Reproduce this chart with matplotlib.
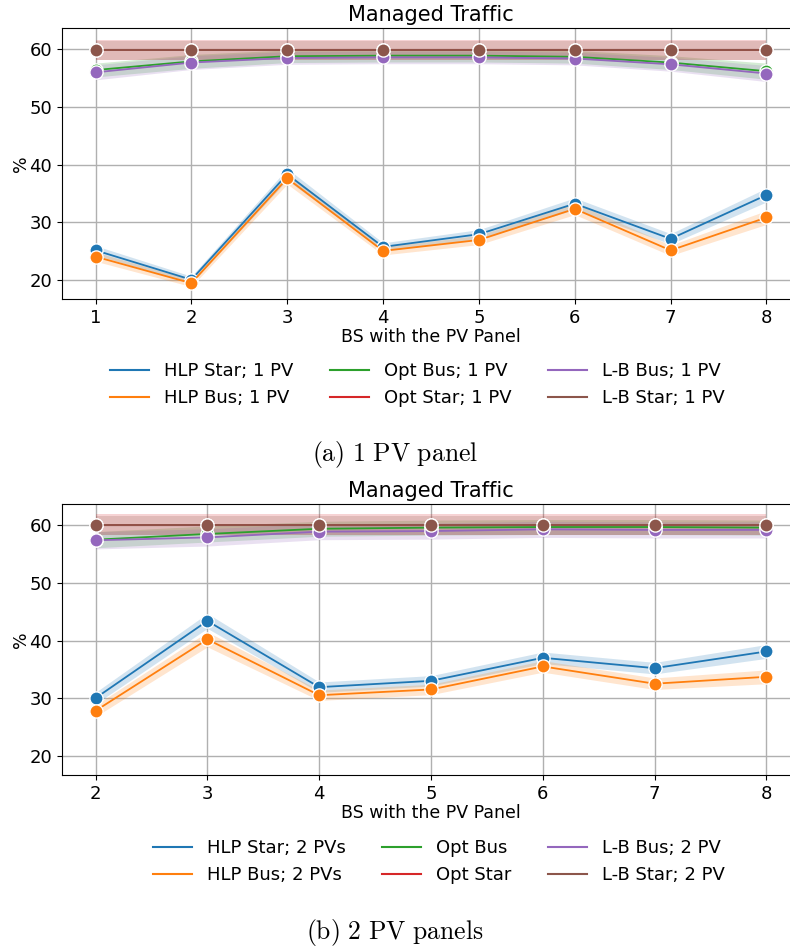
import matplotlib
matplotlib.use("Agg")
import matplotlib.pyplot as plt
from matplotlib.lines import Line2D
import numpy as np

plt.rcParams['mathtext.fontset'] = 'cm'

# ---- data: panel (a) 1 PV ----
x_a = [1, 2, 3, 4, 5, 6, 7, 8]
hlp_star_a = [25.1, 20.0, 38.3, 25.7, 27.9, 33.2, 27.1, 34.7]
hlp_bus_a = [24.0, 19.4, 37.6, 25.0, 26.9, 32.3, 25.1, 30.8]
opt_bus_a = [56.4, 57.9, 58.8, 58.9, 58.9, 58.7, 57.7, 56.2]
opt_star_a = [59.9, 59.9, 59.9, 59.9, 59.9, 59.9, 59.9, 59.9]
lb_bus_a = [56.0, 57.7, 58.5, 58.6, 58.6, 58.4, 57.4, 55.8]
lb_star_a = [59.8, 59.8, 59.8, 59.8, 59.8, 59.8, 59.8, 59.8]
ci_a = {
    'hlp_star': [0.8, 0.6, 1.0, 0.7, 0.8, 1.0, 0.9, 1.2],
    'hlp_bus': [0.8, 0.6, 1.0, 0.7, 0.8, 1.0, 0.9, 1.2],
    'opt_bus': [1.2, 1.2, 1.1, 1.1, 1.1, 1.1, 1.2, 1.4],
    'opt_star': [1.7, 1.7, 1.7, 1.7, 1.7, 1.7, 1.7, 1.7],
    'lb_bus': [1.3, 1.2, 1.1, 1.1, 1.1, 1.1, 1.2, 1.4],
    'lb_star': [1.6, 1.6, 1.6, 1.6, 1.6, 1.6, 1.6, 1.6],
}
labels_a = ["HLP Star; 1 PV", "HLP Bus; 1 PV", "Opt Bus; 1 PV",
            "Opt Star; 1 PV", "L-B Bus; 1 PV", "L-B Star; 1 PV"]

# ---- data: panel (b) 2 PVs ----
x_b = [2, 3, 4, 5, 6, 7, 8]
hlp_star_b = [30.0, 43.4, 31.9, 33.0, 37.0, 35.2, 38.1]
hlp_bus_b = [27.8, 40.2, 30.5, 31.5, 35.5, 32.5, 33.7]
opt_bus_b = [57.5, 58.5, 59.4, 59.6, 59.7, 59.7, 59.6]
opt_star_b = [60.1, 60.1, 60.1, 60.1, 60.1, 60.1, 60.1]
lb_bus_b = [57.4, 57.9, 58.9, 59.0, 59.3, 59.2, 59.2]
lb_star_b = [60.0, 60.0, 60.0, 60.0, 60.0, 60.0, 60.0]
ci_b = {
    'hlp_star': [1.0, 1.3, 0.9, 0.9, 1.0, 1.0, 1.2],
    'hlp_bus': [1.0, 1.3, 0.9, 0.9, 1.0, 1.0, 1.2],
    'opt_bus': [1.4, 1.4, 1.3, 1.3, 1.3, 1.3, 1.3],
    'opt_star': [1.8, 1.8, 1.8, 1.8, 1.8, 1.8, 1.8],
    'lb_bus': [1.5, 1.5, 1.4, 1.4, 1.4, 1.4, 1.4],
    'lb_star': [1.7, 1.7, 1.7, 1.7, 1.7, 1.7, 1.7],
}
labels_b = ["HLP Star; 2 PVs", "HLP Bus; 2 PVs", "Opt Bus",
            "Opt Star", "L-B Bus; 2 PV", "L-B Star; 2 PV"]

keys = ['hlp_star', 'hlp_bus', 'opt_bus', 'opt_star', 'lb_bus', 'lb_star']
colors = ['#1f77b4', '#ff7f0e', '#2ca02c', '#d62728', '#9467bd', '#8c564b']

fig = plt.figure(figsize=(7.9, 9.51), dpi=100)
W, H = 790, 951


def axes_px(left, right, top, bottom):
    return fig.add_axes([left / W, 1 - bottom / H, (right - left) / W, (bottom - top) / H])


def draw(ax, x, series, cis, labels, xlim, xticks):
    handles = []
    for k, y, lab, c in zip(keys, series, labels, colors):
        y = np.array(y)
        ci = np.array(cis[k])
        ax.fill_between(x, y - ci, y + ci, color=c, alpha=0.2, linewidth=0)
        h, = ax.plot(x, y, color=c, lw=1.3, marker='o', markersize=9.5,
                     markeredgecolor='white', markeredgewidth=1.0, label=lab)
        handles.append(h)
    ax.set_xlim(*xlim)
    ax.set_ylim(16.65, 63.7)
    ax.set_xticks(xticks)
    ax.set_yticks([20, 30, 40, 50, 60])
    ax.grid(True, color='#b0b0b0', lw=1.0)
    ax.set_axisbelow(True)
    ax.tick_params(labelsize=13)
    ax.set_title("Managed Traffic", fontsize=15, pad=5)
    ax.set_xlabel("BS with the PV Panel", fontsize=12.5, labelpad=1)
    ax.set_ylabel("%", fontsize=12.5, labelpad=0)
    return handles


ax1 = axes_px(62, 800, 28, 299)
h1 = draw(ax1, x_a, [hlp_star_a, hlp_bus_a, opt_bus_a, opt_star_a, lb_bus_a, lb_star_a],
          ci_a, labels_a, (0.65, 8.35), x_a)

ax2 = axes_px(62, 800, 504, 775)
h2 = draw(ax2, x_b, [hlp_star_b, hlp_bus_b, opt_bus_b, opt_star_b, lb_bus_b, lb_star_b],
          ci_b, labels_b, (1.7, 8.3), x_b)


def legend(handles, labels, ytop):
    proxies = [Line2D([], [], color=h.get_color(), lw=1.5) for h in handles]
    fig.legend(proxies, labels, loc='upper right', ncol=3, frameon=False,
               bbox_to_anchor=(741 / W, 1 - ytop / H), fontsize=13,
               handlelength=2.15, columnspacing=2.0, labelspacing=0.5, handletextpad=0.85)


legend(h1, labels_a, 346)
legend(h2, labels_b, 823)

fig.text(0.5, 1 - 455 / H, r"$\mathrm{(a)\ 1\ PV\ panel}$", ha='center', va='center', fontsize=18.5)
fig.text(0.5, 1 - 932 / H, r"$\mathrm{(b)\ 2\ PV\ panels}$", ha='center', va='center', fontsize=18.5)

fig.savefig("out.png", dpi=100)
